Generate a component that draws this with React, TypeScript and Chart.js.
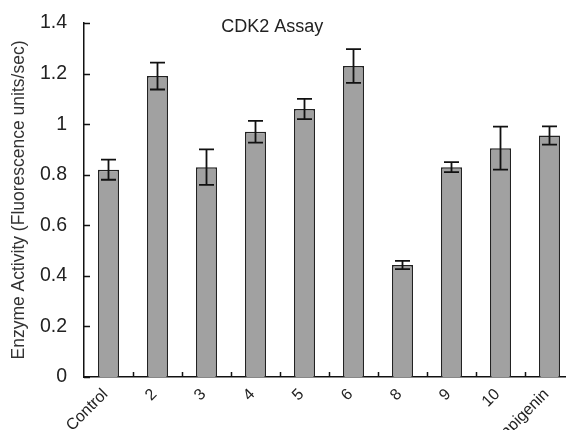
import React, { useEffect, useRef } from 'react';
import { Chart, registerables } from 'chart.js';

Chart.register(...registerables);

const categories = ['Control', '2', '3', '4', '5', '6', '8', '9', '10', 'apigenin'];
const values = [0.82, 1.19, 0.83, 0.97, 1.06, 1.23, 0.443, 0.83, 0.905, 0.955];
const errors = [0.04, 0.053, 0.07, 0.043, 0.04, 0.067, 0.016, 0.02, 0.085, 0.036];
const yTickLabels = ['0', '0.2', '0.4', '0.6', '0.8', '1', '1.2', '1.4'];
const titleText = 'CDK2 Assay';
const yAxisTitle = 'Enzyme Activity (Fluorescence units/sec)';

const FONT = '"Liberation Sans", Arial, sans-serif';

const errorBarPlugin = {
  id: 'errorBars',
  afterDatasetsDraw(chart: any) {
    const { ctx } = chart;
    const y = chart.scales.y;
    const meta = chart.getDatasetMeta(0);
    ctx.save();
    ctx.strokeStyle = '#111';
    ctx.lineWidth = 1.8;
    meta.data.forEach((bar: any, i: number) => {
      const x = bar.x;
      const yTop = y.getPixelForValue(values[i] + errors[i]);
      const yBot = y.getPixelForValue(values[i] - errors[i]);
      const cap = 7.5;
      ctx.beginPath();
      ctx.moveTo(x, yTop);
      ctx.lineTo(x, yBot);
      ctx.moveTo(x - cap, yTop);
      ctx.lineTo(x + cap, yTop);
      ctx.moveTo(x - cap, yBot);
      ctx.lineTo(x + cap, yBot);
      ctx.stroke();
    });
    ctx.restore();
  },
};

const tickPlugin = {
  id: 'inwardTicks',
  afterDraw(chart: any) {
    const { ctx, chartArea } = chart;
    const x = chart.scales.x;
    const y = chart.scales.y;
    ctx.save();
    ctx.strokeStyle = '#111';
    ctx.lineWidth = 1.5;
    ctx.beginPath();
    y.ticks.forEach((t: any) => {
      const py = Math.round(y.getPixelForValue(t.value)) + 0.5;
      ctx.moveTo(chartArea.left, py);
      ctx.lineTo(chartArea.left + 6, py);
    });
    for (let i = 1; i <= categories.length; i++) {
      const px = Math.round((x.getPixelForValue(i - 1) + x.getPixelForValue(i)) / 2) + 0.5;
      ctx.moveTo(px, chartArea.bottom);
      ctx.lineTo(px, chartArea.bottom - 5);
    }
    ctx.stroke();
    // title
    ctx.fillStyle = '#222';
    ctx.font = `18px ${FONT}`;
    ctx.textAlign = 'center';
    ctx.textBaseline = 'alphabetic';
    const tx = chartArea.left + (chartArea.right - chartArea.left) * 0.384;
    ctx.fillText(titleText, tx, chartArea.top + 9);
    ctx.restore();
  },
};

export default function App() {
  const ref = useRef<HTMLCanvasElement>(null);
  useEffect(() => {
    if (!ref.current) return;
    const chart = new Chart(ref.current, {
      type: 'bar',
      data: {
        labels: categories,
        datasets: [
          {
            data: values,
            backgroundColor: '#a1a1a1',
            borderColor: '#222',
            borderWidth: 1.5,
            categoryPercentage: 1,
            barPercentage: 0.43,
          },
        ],
      },
      options: {
        responsive: false,
        animation: false,
        layout: { padding: { left: 0, top: 23, right: 26, bottom: 0 } },
        plugins: { legend: { display: false }, tooltip: { enabled: false }, title: { display: false } },
        scales: {
          x: {
            offset: true,
            grid: { display: false, drawTicks: false },
            border: { display: true, color: '#111', width: 1.5 },
            ticks: {
              color: '#222',
              font: { family: FONT, size: 16 },
              minRotation: 45,
              maxRotation: 45,
              padding: 8,
              labelOffset: -3,
              autoSkip: false,
            },
            afterFit(scale: any) {
              scale.height = 53;
              scale.paddingLeft = 0;
              scale.paddingRight = 0;
            },
          },
          y: {
            min: 0,
            max: 1.4,
            grid: { display: false, drawTicks: false },
            border: { display: true, color: '#111', width: 1.5 },
            ticks: {
              stepSize: 0.2,
              color: '#222',
              font: { family: FONT, size: 19.5 },
              padding: 17,
              callback: (_v: any, i: number) => yTickLabels[i],
            },
            title: {
              display: true,
              text: yAxisTitle,
              color: '#333',
              font: { family: FONT, size: 17.5 },
              padding: { top: 9, bottom: 0 },
            },
            afterFit(scale: any) {
              scale.width = 84;
              scale.paddingTop = 0;
              scale.paddingBottom = 0;
            },
          },
        },
      },
      plugins: [errorBarPlugin, tickPlugin],
    });
    return () => chart.destroy();
  }, []);
  return (
    <div
      style={{
        position: 'fixed',
        left: 0,
        top: 0,
        width: 566,
        height: 430,
        overflow: 'hidden',
        background: '#fff',
      }}
    >
      <canvas ref={ref} width={600} height={430} style={{ display: 'block' }} />
    </div>
  );
}
